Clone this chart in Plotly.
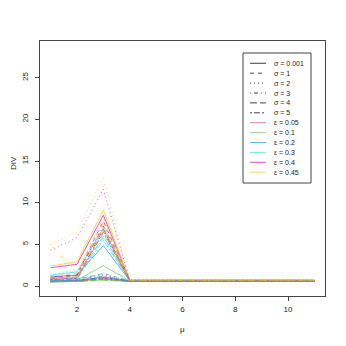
import plotly.graph_objects as go

# mu values on the x axis
mu = [1, 2, 3, 4, 5, 6, 7, 8, 9, 10, 11]

sigma_labels = ["0.001", "1", "2", "3", "4", "5"]
eps_labels = ["0.05", "0.1", "0.2", "0.3", "0.4", "0.45"]

# DIV values, one row per epsilon (0.05, 0.1, 0.2, 0.3, 0.4, 0.45)
div_s0001 = [
    [0.60, 0.65, 1.10, 0.62, 0.62, 0.62, 0.62, 0.62, 0.62, 0.62, 0.62],
    [0.60, 0.70, 2.45, 0.60, 0.60, 0.60, 0.60, 0.60, 0.60, 0.60, 0.60],
    [1.10, 1.30, 4.85, 0.65, 0.65, 0.65, 0.65, 0.65, 0.65, 0.65, 0.65],
    [1.30, 1.70, 6.90, 0.68, 0.68, 0.68, 0.68, 0.68, 0.68, 0.68, 0.68],
    [2.20, 2.60, 8.50, 0.70, 0.70, 0.70, 0.70, 0.70, 0.70, 0.70, 0.70],
    [2.40, 2.90, 9.10, 0.72, 0.72, 0.72, 0.72, 0.72, 0.72, 0.72, 0.72],
]
div_s1 = [
    [0.50, 0.60, 0.90, 0.55, 0.55, 0.55, 0.55, 0.55, 0.55, 0.55, 0.55],
    [0.55, 0.60, 0.80, 0.56, 0.56, 0.56, 0.56, 0.56, 0.56, 0.56, 0.56],
    [0.70, 0.80, 1.50, 0.60, 0.60, 0.60, 0.60, 0.60, 0.60, 0.60, 0.60],
    [0.90, 1.20, 6.30, 0.63, 0.63, 0.63, 0.63, 0.63, 0.63, 0.63, 0.63],
    [1.00, 1.30, 7.80, 0.66, 0.66, 0.66, 0.66, 0.66, 0.66, 0.66, 0.66],
    [1.20, 1.50, 8.20, 0.68, 0.68, 0.68, 0.68, 0.68, 0.68, 0.68, 0.68],
]
div_s2 = [
    [0.60, 0.70, 1.30, 0.58, 0.58, 0.58, 0.58, 0.58, 0.58, 0.58, 0.58],
    [0.60, 0.65, 0.90, 0.57, 0.57, 0.57, 0.57, 0.57, 0.57, 0.57, 0.57],
    [0.80, 0.90, 1.40, 0.62, 0.62, 0.62, 0.62, 0.62, 0.62, 0.62, 0.62],
    [1.40, 1.90, 7.30, 0.66, 0.66, 0.66, 0.66, 0.66, 0.66, 0.66, 0.66],
    [4.30, 5.80, 11.6, 0.70, 0.70, 0.70, 0.70, 0.70, 0.70, 0.70, 0.70],
    [5.00, 6.50, 13.0, 0.74, 0.74, 0.74, 0.74, 0.74, 0.74, 0.74, 0.74],
]
div_s3 = [
    [0.55, 0.60, 1.00, 0.56, 0.56, 0.56, 0.56, 0.56, 0.56, 0.56, 0.56],
    [0.60, 0.60, 0.80, 0.57, 0.57, 0.57, 0.57, 0.57, 0.57, 0.57, 0.57],
    [0.70, 0.80, 1.20, 0.60, 0.60, 0.60, 0.60, 0.60, 0.60, 0.60, 0.60],
    [0.90, 1.10, 5.80, 0.63, 0.63, 0.63, 0.63, 0.63, 0.63, 0.63, 0.63],
    [1.10, 1.30, 7.20, 0.66, 0.66, 0.66, 0.66, 0.66, 0.66, 0.66, 0.66],
    [5.00, 1.50, 7.60, 0.69, 0.69, 0.69, 0.69, 0.69, 0.69, 0.69, 0.69],
]
div_s4 = [
    [0.50, 0.55, 0.80, 0.54, 0.54, 0.54, 0.54, 0.54, 0.54, 0.54, 0.54],
    [0.50, 0.55, 0.70, 0.55, 0.55, 0.55, 0.55, 0.55, 0.55, 0.55, 0.55],
    [0.60, 0.70, 1.00, 0.58, 0.58, 0.58, 0.58, 0.58, 0.58, 0.58, 0.58],
    [0.80, 0.90, 6.00, 0.61, 0.61, 0.61, 0.61, 0.61, 0.61, 0.61, 0.61],
    [0.90, 1.00, 6.80, 0.64, 0.64, 0.64, 0.64, 0.64, 0.64, 0.64, 0.64],
    [1.00, 1.10, 7.00, 0.67, 0.67, 0.67, 0.67, 0.67, 0.67, 0.67, 0.67],
]
div_s5 = [
    [0.50, 0.55, 0.90, 0.53, 0.53, 0.53, 0.53, 0.53, 0.53, 0.53, 0.53],
    [0.50, 0.55, 0.70, 0.54, 0.54, 0.54, 0.54, 0.54, 0.54, 0.54, 0.54],
    [0.60, 0.65, 1.00, 0.57, 0.57, 0.57, 0.57, 0.57, 0.57, 0.57, 0.57],
    [0.70, 0.80, 5.50, 0.60, 0.60, 0.60, 0.60, 0.60, 0.60, 0.60, 0.60],
    [0.80, 0.90, 6.50, 0.63, 0.63, 0.63, 0.63, 0.63, 0.63, 0.63, 0.63],
    [0.90, 1.00, 6.60, 0.66, 0.66, 0.66, 0.66, 0.66, 0.66, 0.66, 0.66],
]

all_div = [div_s0001, div_s1, div_s2, div_s3, div_s4, div_s5]

# R-like line types and palette
dashes = ["solid", "4px,4px", "1px,3px", "1px,3px,4px,3px", "7px,3px", "2px,2px,6px,2px"]
colors = ["#DF536B", "#61D04F", "#2297E6", "#28E2E5", "#CD0BBC", "#F5C710"]

fig = go.Figure()
for si, rows in enumerate(all_div):
    for ei, vals in enumerate(rows):
        fig.add_trace(go.Scatter(
            x=mu, y=vals, mode='lines',
            line=dict(color=colors[ei], width=1, dash=dashes[si]),
            opacity=0.7, showlegend=False, hoverinfo='skip'))

# page body has an 8px margin, so the figure is drawn 8px smaller and shifted
O = 8
W = 346 - O
# plot area in window pixels: x 40..325, y 41..296
L, R, T, B = 40, 325, 41, 296
def px(x):
    return (x - L) / (R - L)
def py(y):
    return (B - y) / (B - T)

shapes = [dict(type='rect', xref='paper', yref='paper',
               x0=px(243), x1=px(311), y0=py(183), y1=py(53),
               line=dict(color='#444', width=1))]
annotations = []
labels = ["\u03c3 = " + s for s in sigma_labels] + ["\u03b5 = " + e for e in eps_labels]
for i, lab in enumerate(labels):
    yy = 63.3 + i * 9.9
    if i < 6:
        lc, ld = '#444', dashes[i]
    else:
        lc, ld = colors[i - 6], 'solid'
    shapes.append(dict(type='line', xref='paper', yref='paper',
                       x0=px(250), x1=px(266), y0=py(yy), y1=py(yy),
                       line=dict(color=lc, width=1, dash=ld), opacity=0.7 if i >= 6 else 1))
    annotations.append(dict(xref='paper', yref='paper', x=px(272), y=py(yy),
                            text=lab, showarrow=False, xanchor='left', yanchor='middle',
                            font=dict(size=7, color='#222')))

annotations.append(dict(xref='paper', yref='paper', x=px(182), y=py(329), text='\u03bc',
                        showarrow=False, xanchor='center', yanchor='middle',
                        font=dict(size=8, color='#222')))
annotations.append(dict(xref='paper', yref='paper', x=px(13), y=py(163), text='DIV',
                        showarrow=False, textangle=-90, xanchor='center', yanchor='middle',
                        font=dict(size=8, color='#222')))

fig.update_layout(
    width=W, height=W,
    margin=dict(l=L - O, r=346 - R, t=T - O, b=346 - B),
    paper_bgcolor='white', plot_bgcolor='white',
    font=dict(family='Liberation Sans, Arial, sans-serif', size=8, color='#222'),
    shapes=shapes, annotations=annotations,
    xaxis=dict(range=[0.6, 11.4], tickvals=[2, 4, 6, 8, 10], showgrid=False, zeroline=False,
               showline=True, mirror=True, linecolor='#444', linewidth=1,
               ticks='outside', ticklen=4, tickcolor='#444', ticklabelstandoff=1),
    yaxis=dict(range=[-1.2, 29.4], tickvals=[0, 5, 10, 15, 20, 25], showgrid=False, zeroline=False,
               showline=True, mirror=True, linecolor='#444', linewidth=1,
               ticks='outside', ticklen=4, tickcolor='#444', tickangle=-90, ticklabelstandoff=4),
)

fig.write_html("out.html")
